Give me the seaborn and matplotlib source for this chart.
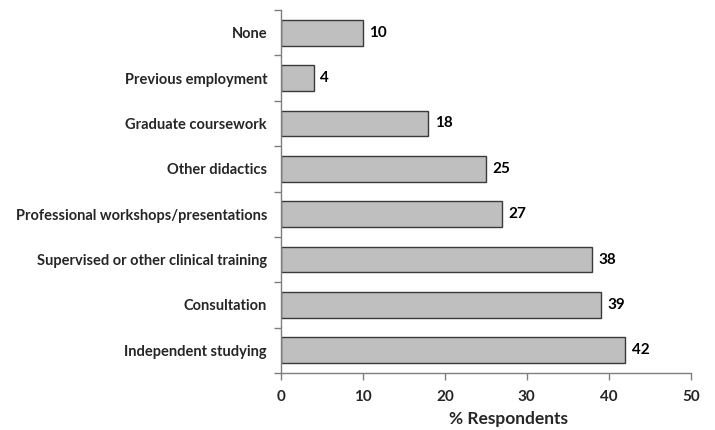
import matplotlib
matplotlib.use("Agg")
import matplotlib.pyplot as plt
import matplotlib.ticker as mticker
import numpy as np
import pandas as pd
import seaborn as sns

categories = [
    "None",
    "Previous employment",
    "Graduate coursework",
    "Other didactics",
    "Professional workshops/presentations",
    "Supervised or other clinical training",
    "Consultation",
    "Independent studying",
]
percent = [10, 4, 18, 25, 27, 38, 39, 42]
x_ticks = [0, 10, 20, 30, 40, 50]

df = pd.DataFrame({"source": categories, "pct": percent})

sns.set_theme(style="white")
plt.rcParams["font.family"] = ["Lato", "DejaVu Sans"]
plt.rcParams["font.weight"] = "bold"

fig = plt.figure(figsize=(7.15, 4.3), dpi=100)
ax = fig.add_axes([0.393, 0.1326, 0.573, 0.844])

sns.barplot(data=df, x="pct", y="source", orient="h", color="#bfbfbf",
            saturation=1, width=0.57, edgecolor="#3a3a3a", linewidth=1.0, ax=ax)

for i, v in enumerate(percent):
    ax.text(v + 0.8, i, f"{v}", va="center", ha="left", fontsize=11,
            fontweight="bold", color="black")

ax.set_xlim(0, 50)
ax.set_ylim(len(categories) - 0.5, -0.5)
ax.set_xticks(x_ticks)
ax.set_xticklabels([str(t) for t in x_ticks], fontsize=11, fontweight="bold")
ax.set_yticks(range(len(categories)))
ax.set_yticklabels(categories, fontsize=10.5, fontweight="bold")
ax.yaxis.set_minor_locator(mticker.FixedLocator(np.arange(-0.5, len(categories), 1.0)))
ax.tick_params(axis="y", which="major", length=0, pad=10)
ax.tick_params(axis="y", which="minor", length=5, width=1, color="#7f7f7f", direction="out", left=True)
ax.tick_params(axis="x", which="major", length=5, width=1, color="#7f7f7f", direction="out", bottom=True, pad=7)

ax.set_xlabel("% Respondents", fontsize=12.5, fontweight="bold", va="center")
ax.xaxis.set_label_coords(0.556, -0.128)
ax.set_ylabel("")

sns.despine(ax=ax, top=True, right=True)
for s in ("left", "bottom"):
    ax.spines[s].set_color("#7f7f7f")
    ax.spines[s].set_linewidth(1)

fig.savefig("out.png", dpi=100)
